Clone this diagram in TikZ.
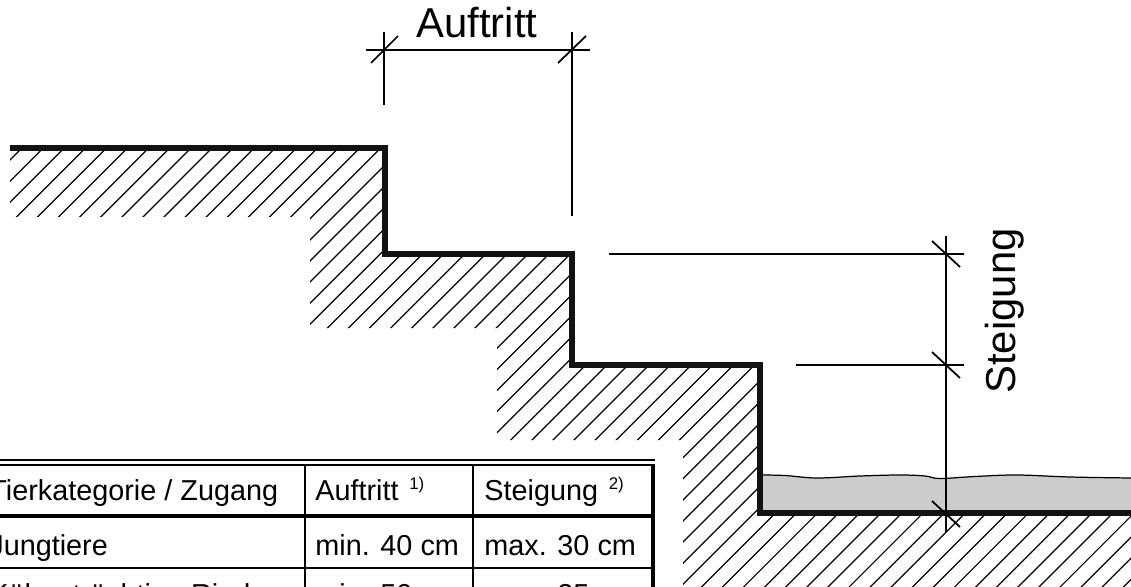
\documentclass[tikz,border=0pt]{standalone}
\usepackage{fontspec}
\setmainfont{Liberation Sans}
\newcommand\colorStair{black!93}
\newcommand\colorWater{black!20}
\newcommand\hatchDist{21.1}
\newcommand\hatchN{75}
\newcommand\largeText{\fontsize{23.8}{28}\selectfont}
\newcommand\tableText{\fontsize{16.4}{20}\selectfont}
\newcommand\noteMark[1]{\kern 1.5pt\raisebox{5.7pt}{\fontsize{9.6}{10}\selectfont #1}}
\tikzset{
	hatchline/.style={line width=0.7pt},
	dimline/.style={line width=1pt},
	stairline/.style={line width=3.2pt, color=\colorStair},
	tablerule/.style={line width=1.1pt},
	tablelabel/.style={anchor=base west, inner sep=0pt, font=\tableText},
}
\newcommand\drawHatch{
	\foreach \i in {0,...,\hatchN}{
		\draw[hatchline] (149+\i*\hatchDist-100,100) to (149+\i*\hatchDist-620,620);
	}
}
\begin{document}
\begin{tikzpicture}[x=0.02cm,y=-0.02cm]
		\useasboundingbox (0,0) rectangle (1131,587);

		% corners of the steps
		\coordinate (topLeft) at (10,148);
		\coordinate (stepA) at (385,148);
		\coordinate (stepB) at (385,254);
		\coordinate (stepC) at (572,254);
		\coordinate (stepD) at (572,365);
		\coordinate (stepE) at (760,365);
		\coordinate (stepF) at (760,513);
		\coordinate (floorEnd) at (1131,513);

		\begin{scope}
			\clip (topLeft) -- (stepA) -- (stepB) -- (stepC) -- (stepD) -- (stepE) -- (stepF) -- (floorEnd)
				-- (1131,587) -- (683,587) -- (683,440) -- (497,440) -- (497,328) -- (310,328) -- (310,217) -- (10,217) -- cycle;
			\drawHatch
		\end{scope}

		% water
		\fill[color=\colorWater] (stepF) -- plot[smooth, tension=0.6] coordinates {(760,475) (785,475.5) (817,478) (860,476) (900,475) (925,476) (940,478.5) (975,476.5) (1017,475) (1070,477) (1131,478)} -- (floorEnd) -- cycle;
		\draw[line width=0.7pt] plot[smooth, tension=0.6] coordinates {(760,475) (785,475.5) (817,478) (860,476) (900,475) (925,476) (940,478.5) (975,476.5) (1017,475) (1070,477) (1131,478)};

		\draw[stairline] (topLeft) to (stepA) to (stepB) to (stepC) to (stepD) to (stepE) to (stepF) to (floorEnd);

		% tread dimension
		\draw[dimline] (366,50) to (590,50);
		\draw[dimline] (384,32) to (384,105);
		\draw[dimline] (572,32) to (572,216);
		\draw[dimline] (371,63) to (398,36);
		\draw[dimline] (558,63) to (586,36);
		\node[anchor=base, inner sep=0pt, font=\largeText] (labelTread) at (477,38) {Auftritt};

		% riser dimension
		\draw[dimline] (946,236) to (946,532);
		\draw[dimline] (609,254) to (964,254);
		\draw[dimline] (796,365) to (964,365);
		\draw[dimline] (932,241) to (960,267);
		\draw[dimline] (932,352) to (960,378);
		\draw[dimline] (932,501) to (960,527);
		\node[anchor=base, rotate=90, inner sep=0pt, font=\largeText] (labelRiser) at (1015,311) {Steigung};

		% table
		\draw[tablerule] (-5,460) to (655,460);
		\draw[tablerule] (-5,465) to (655,465);
		\draw[line width=1.8pt] (-5,516) to (653,516);
		\draw[tablerule] (-5,568) to (653,568);
		\draw[tablerule] (305,465) to (305,600);
		\draw[tablerule] (473,465) to (473,600);
		\draw[line width=2.2pt] (653,464) to (653,600);

		\node[tablelabel] (headKind) at (-11,500) {Tierkategorie / Zugang};
		\node[tablelabel] (headTread) at (315,500) {Auftritt \noteMark{1)}};
		\node[tablelabel] (headRiser) at (484,500) {Steigung \noteMark{2)}};
		\node[tablelabel] (kindYoung) at (-11,555) {Jungtiere};
		\node[tablelabel] (treadYoung) at (315,555) {min. 40 cm};
		\node[tablelabel] (riserYoung) at (484,555) {max. 30 cm};
		\node[tablelabel] (kindCow) at (-11,604) {Kühe, trächtige Rinder};
		\node[tablelabel] (treadCow) at (315,604) {min. 50 cm};
		\node[tablelabel] (riserCow) at (484,604) {max. 25 cm};
	\end{tikzpicture}
\end{document}
